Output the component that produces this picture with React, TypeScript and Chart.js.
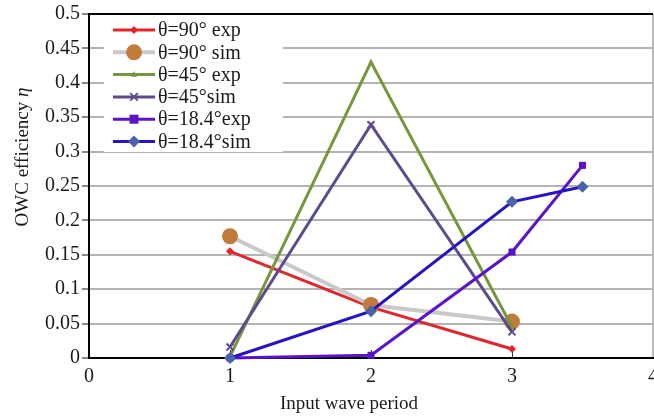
import React, { useEffect, useRef } from "react";
import { Chart, registerables } from "chart.js";

Chart.register(...registerables);

const seriesNames = ["θ=90° exp", "θ=90° sim", "θ=45° exp", "θ=45°sim", "θ=18.4°exp", "θ=18.4°sim"];
const periods3 = [1, 2, 3];
const periods4 = [1, 2, 3, 3.5];
const deg90Exp = [0.155, 0.074, 0.013];
const deg90Sim = [0.177, 0.077, 0.053];
const deg45Exp = [0.002, 0.43, 0.045];
const deg45Sim = [0.016, 0.339, 0.038];
const deg18Exp = [0.0, 0.004, 0.154, 0.28];
const deg18Sim = [0.0, 0.068, 0.227, 0.249];
const yTickLabels = ["0", "0.05", "0.1", "0.15", "0.2", "0.25", "0.3", "0.35", "0.4", "0.45", "0.5"];
const xTickLabels = ["0", "1", "2", "3", "4"];
const xTitle = "Input wave period";
const yTitle = "OWC efficiency ";
const yTitleSymbol = "η";

const FONT = "'Liberation Serif', 'Times New Roman', serif";

type Style = {
  line: string;
  lineWidth: number;
  marker: string;
  markerFill: string;
  radius: number;
};

const styles: Style[] = [
  { line: "#e2252b", lineWidth: 3, marker: "rectRot", markerFill: "#e2252b", radius: 4 },
  { line: "#c9c9c9", lineWidth: 4, marker: "circle", markerFill: "#c27b3a", radius: 8 },
  { line: "#78973d", lineWidth: 3, marker: "triangle", markerFill: "#78973d", radius: 3 },
  { line: "#5f4b8b", lineWidth: 3, marker: "crossRot", markerFill: "#5f4b8b", radius: 5 },
  { line: "#5a14c8", lineWidth: 3, marker: "rect", markerFill: "#5a14c8", radius: 5 },
  { line: "#2414c4", lineWidth: 3, marker: "rectRot", markerFill: "#4a62a8", radius: 6 },
];

function pts(xs: number[], ys: number[]) {
  return ys.map((y, i) => ({ x: xs[i], y }));
}

function drawMarker(ctx: CanvasRenderingContext2D, st: Style, x: number, y: number) {
  const r = st.radius;
  ctx.save();
  ctx.fillStyle = st.markerFill;
  ctx.strokeStyle = st.markerFill;
  ctx.lineWidth = 2;
  ctx.beginPath();
  if (st.marker === "circle") {
    ctx.arc(x, y, r, 0, Math.PI * 2);
    ctx.fill();
  } else if (st.marker === "rectRot") {
    ctx.moveTo(x, y - r);
    ctx.lineTo(x + r, y);
    ctx.lineTo(x, y + r);
    ctx.lineTo(x - r, y);
    ctx.closePath();
    ctx.fill();
  } else if (st.marker === "rect") {
    const s = r * 0.9;
    ctx.rect(x - s, y - s, 2 * s, 2 * s);
    ctx.fill();
  } else if (st.marker === "triangle") {
    ctx.moveTo(x, y - r * 1.2);
    ctx.lineTo(x + r, y + r * 0.7);
    ctx.lineTo(x - r, y + r * 0.7);
    ctx.closePath();
    ctx.fill();
  } else if (st.marker === "crossRot") {
    const s = r * 0.75;
    ctx.moveTo(x - s, y - s);
    ctx.lineTo(x + s, y + s);
    ctx.moveTo(x + s, y - s);
    ctx.lineTo(x - s, y + s);
    ctx.stroke();
  }
  ctx.restore();
}

const decorPlugin = {
  id: "decor",
  beforeDatasetsDraw(chart: any) {
    const ctx: CanvasRenderingContext2D = chart.ctx;
    const xs = chart.scales.x;
    const ys = chart.scales.y;
    ctx.save();
    ctx.strokeStyle = "#333";
    ctx.lineWidth = 1;
    for (let v = 1; v <= 3; v++) {
      const px = Math.round(xs.getPixelForValue(v)) + 0.5;
      ctx.beginPath();
      ctx.moveTo(px, ys.bottom);
      ctx.lineTo(px, ys.bottom - 8);
      ctx.stroke();
    }
    ctx.restore();
  },
  afterDatasetsDraw(chart: any) {
    const ctx: CanvasRenderingContext2D = chart.ctx;
    // legend box
    ctx.save();
    ctx.fillStyle = "#ffffff";
    ctx.fillRect(104, 17, 179, 135);
    const y0 = 30;
    const dy = 22.3;
    ctx.font = `20px ${FONT}`;
    ctx.textBaseline = "middle";
    ctx.textAlign = "left";
    seriesNames.forEach((name, i) => {
      const st = styles[i];
      const y = y0 + i * dy;
      ctx.strokeStyle = st.line;
      ctx.lineWidth = st.lineWidth;
      ctx.beginPath();
      ctx.moveTo(113, y);
      ctx.lineTo(155, y);
      ctx.stroke();
      drawMarker(ctx, st, 134, y);
      ctx.fillStyle = "#1a1a1a";
      ctx.fillText(name, 158, y + 1);
    });
    // x title
    ctx.font = `19px ${FONT}`;
    ctx.textAlign = "center";
    ctx.fillStyle = "#1a1a1a";
    ctx.fillText(xTitle, 349, 404);
    // y title
    ctx.translate(23, 157);
    ctx.rotate(-Math.PI / 2);
    ctx.font = `19px ${FONT}`;
    const w1 = ctx.measureText(yTitle).width;
    ctx.font = `italic 19px ${FONT}`;
    const w2 = ctx.measureText(yTitleSymbol).width;
    const start = -(w1 + w2) / 2;
    ctx.textAlign = "left";
    ctx.font = `19px ${FONT}`;
    ctx.fillText(yTitle, start, 0);
    ctx.font = `italic 19px ${FONT}`;
    ctx.fillText(yTitleSymbol, start + w1, 0);
    ctx.restore();
  },
};

export default function App() {
  const ref = useRef<HTMLCanvasElement | null>(null);
  useEffect(() => {
    document.body.style.margin = "0";
    const canvas = ref.current;
    if (!canvas) return;
    const data = [
      pts(periods3, deg90Exp),
      pts(periods3, deg90Sim),
      pts(periods3, deg45Exp),
      pts(periods3, deg45Sim),
      pts(periods4, deg18Exp),
      pts(periods4, deg18Sim),
    ];
    const chart = new Chart(canvas, {
      type: "line",
      data: {
        datasets: data.map((d, i) => ({
          label: seriesNames[i],
          data: d,
          borderColor: styles[i].line,
          borderWidth: styles[i].lineWidth,
          backgroundColor: styles[i].markerFill,
          pointStyle: styles[i].marker as any,
          pointRadius: styles[i].radius,
          pointBackgroundColor: styles[i].markerFill,
          pointBorderColor: styles[i].markerFill,
          pointBorderWidth: styles[i].marker === "crossRot" ? 2 : 0,
          tension: 0,
          fill: false,
          clip: false as any,
          order: 6 - i,
        })),
      },
      options: {
        animation: false,
        responsive: false,
        layout: { autoPadding: false, padding: { top: 14, right: 1, left: 0, bottom: 0 } },
        plugins: {
          legend: { display: false },
          tooltip: { enabled: false },
        },
        scales: {
          x: {
            type: "linear",
            min: 0,
            max: 4,
            ticks: {
              stepSize: 1,
              padding: 7,
              color: "#1a1a1a",
              font: { family: FONT, size: 20 },
              maxRotation: 0,
              callback: (v: any) => xTickLabels[Math.round(Number(v))] ?? "",
            },
            grid: {
              drawTicks: false,
              color: (c: any) => (c.tick && c.tick.value === 4 ? "#b8b8b8" : "rgba(0,0,0,0)"),
              lineWidth: 2,
            },
            border: { display: true, color: "#000", width: 2 },
            afterFit: (s: any) => {
              s.height = 60;
              s.paddingLeft = 0;
              s.paddingRight = 0;
            },
          },
          y: {
            min: 0,
            max: 0.5,
            ticks: {
              stepSize: 0.05,
              padding: 2,
              color: "#1a1a1a",
              font: { family: FONT, size: 20 },
              callback: (v: any) => yTickLabels[Math.round(Number(v) / 0.05)] ?? "",
            },
            grid: {
              color: (c: any) => (c.tick && Math.abs(c.tick.value - 0.5) < 1e-6 ? "#000" : "#b4b4b4"),
              tickColor: "#8a8a8a",
              tickLength: 7,
              lineWidth: 2,
            },
            border: { display: true, color: "#000", width: 2 },
            afterFit: (s: any) => {
              s.width = 89;
              s.paddingTop = 0;
              s.paddingBottom = 0;
            },
          },
        },
      },
      plugins: [decorPlugin],
    });
    return () => chart.destroy();
  }, []);
  return <canvas ref={ref} width={654} height={418} style={{ display: "block" }} />;
}
